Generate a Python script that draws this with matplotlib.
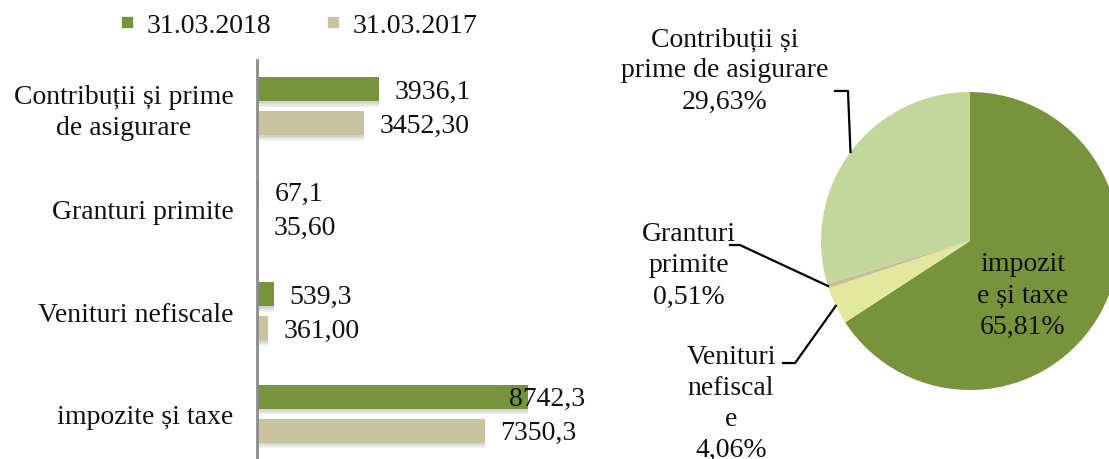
import numpy as np
import matplotlib
matplotlib.use('Agg')
import matplotlib.pyplot as plt
import matplotlib.patheffects as pe
from matplotlib.lines import Line2D

plt.rcParams['font.family'] = ['Liberation Serif', 'DejaVu Serif']

categories = ['Contribuții și prime\nde asigurare', 'Granturi primite',
              'Venituri nefiscale', 'impozite și taxe']
values_2018 = [3936.1, 67.1, 539.3, 8742.3]
values_2017 = [3452.30, 35.60, 361.00, 7350.3]
labels_2018 = ['3936,1', '67,1', '539,3', '8742,3']
labels_2017 = ['3452,30', '35,60', '361,00', '7350,3']
series_names = ['31.03.2018', '31.03.2017']

pie_names = ['impozit\ne și taxe', 'Venituri\nnefiscal\ne', 'Granturi\nprimite',
             'Contribuții și\nprime de asigurare']
pie_values = [8742.3, 539.3, 67.1, 3936.1]

c_2018 = '#77933C'
c_2017 = '#C9C39F'
pie_colors = ['#77933C', '#E2E89E', '#C4BD97', '#C3D69B']
fs = 20
txt = '#111111'

W, H = 1109, 460
fig = plt.figure(figsize=(W / 100, H / 100), dpi=100)

# --- bar chart ---
ax = fig.add_axes([257 / W, -6 / H, 328 / W, 410 / H])
y = np.arange(len(categories))
# soft-ish shadow from a few faint layers
shadow = [pe.SimplePatchShadow(offset=(0, -o), shadow_rgbFace='#777777', alpha=0.09) for o in (1, 2, 3, 4)]
shadow.append(pe.Normal())
b1 = ax.barh(y - 0.165, values_2018, height=0.235, color=c_2018)
b2 = ax.barh(y + 0.165, values_2017, height=0.235, color=c_2017)
for b in list(b1) + list(b2):
    b.set_path_effects(shadow)

xmax = 10580
ax.set_xlim(0, xmax)
ax.set_ylim(3.5, -0.5)

for vals, labs, off in [(values_2018, labels_2018, -0.165), (values_2017, labels_2017, 0.165)]:
    for i, (v, l) in enumerate(zip(vals, labs)):
        if v > 0.8 * xmax:
            ax.text(xmax, i + off + 0.02, l, ha='right', va='center', fontsize=fs, color=txt)
        else:
            ax.annotate(l, (v, i + off + 0.02), xytext=(11, 0), textcoords='offset points',
                        ha='left', va='center', fontsize=fs, color=txt)

ax.set_yticks(y)
ax.set_yticklabels(categories, fontsize=fs, multialignment='center', color=txt, linespacing=1.3)
ax.tick_params(axis='y', length=0, pad=17)
ax.set_xticks([])
for s in ['top', 'right', 'bottom']:
    ax.spines[s].set_visible(False)
ax.spines['left'].set_color('#8c8c8c')
ax.spines['left'].set_linewidth(2)
ax.spines['left'].set_bounds(3.5, -0.45)

handles = [Line2D([], [], marker='s', linestyle='none', markersize=7, color=c)
           for c in [c_2018, c_2017]]
fig.legend(handles, series_names, loc='center', bbox_to_anchor=(298 / W, 1 - 26 / H),
           ncol=2, frameon=False, fontsize=fs, handlelength=0.6, handletextpad=0.4,
           columnspacing=1.9, labelcolor=txt)

# --- pie chart ---
r = 149
cx, cy = 970, 242
ax2 = fig.add_axes([(cx - r) / W, (H - cy - r) / H, 2 * r / W, 2 * r / H])
wedges, _ = ax2.pie(pie_values, colors=pie_colors, startangle=90, counterclock=False,
                    radius=1, wedgeprops=dict(linewidth=0))
ax2.set_xlim(-1, 1)
ax2.set_ylim(-1, 1)
ax2.axis('off')

total = sum(pie_values)
pcts = [f'{v / total * 100:.2f}%'.replace('.', ',') for v in pie_values]

# text centres and leader elbows in pie units
text_pos = [(0.356, -0.362), (-1.604, -1.087), (-1.886, -0.161), (-1.644, 1.148)]
elbows = [None, [(-1.255, -0.819), (-1.174, -0.819)], [(-1.611, -0.027), (-1.544, -0.027)],
          [(-0.906, 1.007), (-0.819, 1.007)]]

for w, name, pct, tp, el in zip(wedges, pie_names, pcts, text_pos, elbows):
    ax2.text(tp[0], tp[1], f'{name}\n{pct}', ha='center', va='center', fontsize=fs,
             color=txt, linespacing=1.33)
    if el is not None:
        ang = np.deg2rad((w.theta1 + w.theta2) / 2)
        xs = [el[0][0], el[1][0], np.cos(ang)]
        ys = [el[0][1], el[1][1], np.sin(ang)]
        ax2.plot(xs, ys, color='black', lw=1.6, clip_on=False)

fig.savefig('out.png', dpi=100)
